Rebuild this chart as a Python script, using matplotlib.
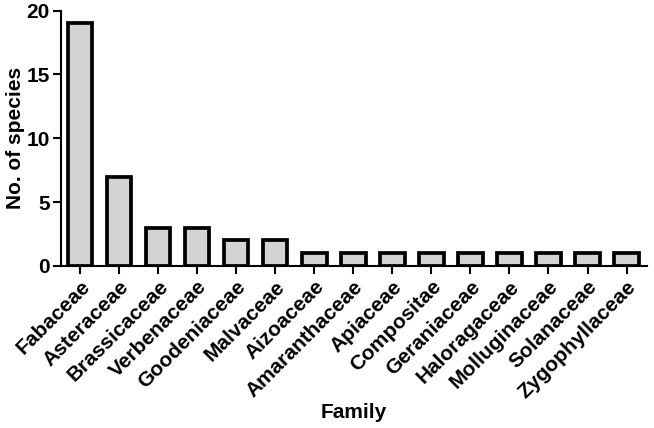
import numpy as np
import matplotlib.pyplot as plt

plt.rcParams['font.family'] = ['Liberation Sans', 'DejaVu Sans']
plt.rcParams['font.weight'] = 'bold'

families = ['Fabaceae', 'Asteraceae', 'Brassicaceae', 'Verbenaceae', 'Goodeniaceae',
            'Malvaceae', 'Aizoaceae', 'Amaranthaceae', 'Apiaceae', 'Compositae',
            'Geraniaceae', 'Haloragaceae', 'Molluginaceae', 'Solanaceae', 'Zygophyllaceae']
species = [19, 7, 3, 3, 2, 2, 1, 1, 1, 1, 1, 1, 1, 1, 1]
yticks = [0, 5, 10, 15, 20]

fig = plt.figure(figsize=(6.54, 4.28), dpi=100)
ax = fig.add_axes([0.093, 0.379, 0.896, 0.596])

x = np.arange(len(families))
ax.bar(x, species, width=0.62, color='#d3d3d3', edgecolor='black', linewidth=2.7, zorder=2)

ax.set_xlim(-0.5, len(families) - 0.48)
ax.set_ylim(0, 20)
ax.set_yticks(yticks)
ax.set_xticks(x)
ax.set_xticklabels(families, rotation=45, ha='right', rotation_mode='anchor')

for s in ['top', 'right']:
    ax.spines[s].set_visible(False)
for s in ['left', 'bottom']:
    ax.spines[s].set_linewidth(1.5)

ax.tick_params(axis='both', length=6, width=1.5, labelsize=15, pad=2)
ax.set_ylabel('No. of species', fontsize=15, fontweight='bold', labelpad=1)
ax.set_xlabel('Family', fontsize=15, fontweight='bold', labelpad=1)

fig.savefig('out.png', dpi=100)
